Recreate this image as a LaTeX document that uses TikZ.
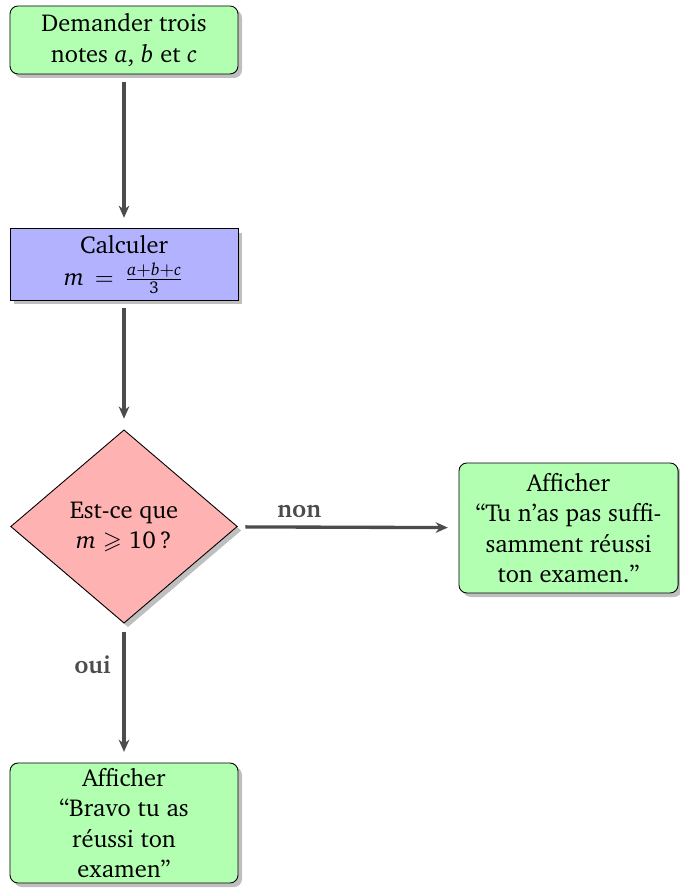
\documentclass[tikz,border=0pt]{standalone}
\usepackage[T1]{fontenc}
\usepackage{charter}
\usepackage{amsmath,amssymb}
\usetikzlibrary{shapes.geometric,shadows,arrows.meta}
\newcommand{\vi}[1]{\textit{#1}}
\begin{document}
\begin{tikzpicture}[x=0.45pt,y=-0.45pt,
  font=\fontsize{11}{13.6}\selectfont,
  shad/.style={drop shadow={shadow xshift=1.8pt,shadow yshift=-1.8pt,fill=black!25,opacity=1}},
  greenbox/.style={draw=black,fill=green!30,rounded corners=3.6pt,align=center,inner sep=0pt,shad},
  bluebox/.style={draw=black,fill=blue!30,align=center,inner sep=0pt,shad},
  decision/.style={diamond,draw=black,fill=red!30,align=center,inner sep=0pt,shad},
  flow/.style={draw=black!70,line width=1.5pt,-{Stealth[length=5.5pt,width=4.8pt]},shorten <=3.6pt,shorten >=4.8pt},
  lbl/.style={font=\fontsize{11}{13.6}\selectfont\bfseries,text=black!70}]
\useasboundingbox (0,0) rectangle (679,894);
\node[greenbox,minimum width=102.6pt,minimum height=30.6pt] (ask) at (124,40) {Demander trois\\notes $\vi{a}$, $\vi{b}$ et $\vi{c}$};
\node[bluebox,minimum width=102.6pt,minimum height=32pt] (calc) at (124,264.5) {Calculer\\[1pt]$\vi{m}\,=\,\frac{\vi{a}+\vi{b}+\vi{c}}{\text{3}}$};
\node[decision,minimum width=102pt,minimum height=87pt] (test) at (124,526.5) {Est-ce que\\$\vi{m}\geqslant \text{10}$\,?};
\node[greenbox,minimum width=98.6pt,minimum height=58.5pt] (fail) at (568.5,528) {Afficher\\``Tu n'as pas suffi-\\samment réussi\\ton examen.''};
\node[greenbox,minimum width=102.6pt,minimum height=54pt] (win) at (124,823) {Afficher\\``Bravo tu as\\réussi ton\\examen''};
\draw[flow] (ask) -- (calc);
\draw[flow] (calc) -- (test);
\draw[flow] (test) -- node[lbl,above,pos=0.28] {non} (fail);
\draw[flow] (test) -- node[lbl,left,pos=0.3,xshift=-2pt] {oui} (win);
\end{tikzpicture}
\end{document}
